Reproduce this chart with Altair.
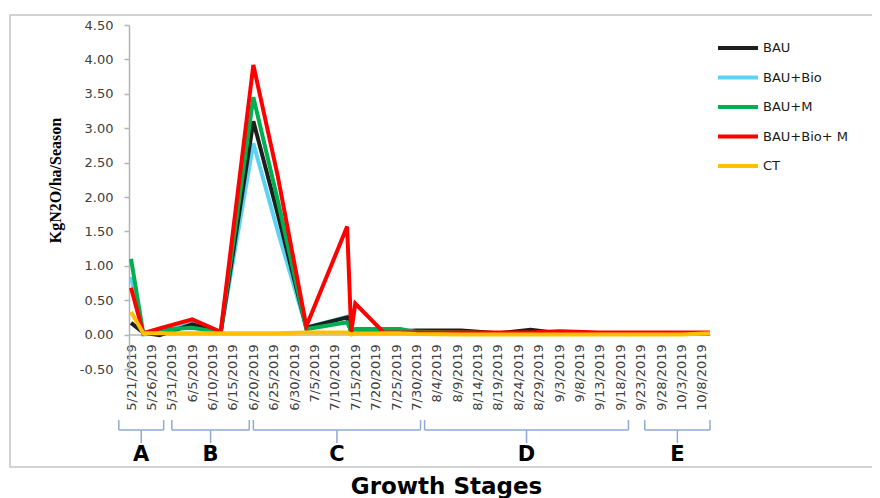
import altair as alt
import pandas as pd

# ---- data ----
dates = ["2019-05-21", "2019-05-24", "2019-05-28", "2019-06-05", "2019-06-12",
         "2019-06-20", "2019-06-26", "2019-07-03", "2019-07-13", "2019-07-14",
         "2019-07-15", "2019-07-21", "2019-07-22", "2019-07-26", "2019-07-30",
         "2019-08-10", "2019-08-19", "2019-08-27", "2019-09-03", "2019-09-13",
         "2019-09-23", "2019-10-03", "2019-10-10"]
bau = [0.17, 0.03, -0.01, 0.15, 0.03, 3.10, 1.75, 0.10, 0.25, 0.03, 0.05, 0.05,
       0.05, 0.05, 0.06, 0.06, 0.02, 0.07, 0.02, 0.02, 0.02, 0.02, 0.02]
bau_bio = [0.84, 0.00, 0.03, 0.16, 0.03, 2.78, 1.50, 0.10, 0.26, 0.03, 0.04, 0.04,
           0.04, 0.04, 0.03, 0.02, 0.02, 0.02, 0.02, 0.02, 0.02, 0.02, 0.02]
bau_m = [1.10, 0.02, 0.07, 0.10, 0.03, 3.45, 1.95, 0.08, 0.18, 0.05, 0.08, 0.08,
         0.08, 0.08, 0.04, 0.03, 0.02, 0.02, 0.02, 0.02, 0.02, 0.02, 0.02]
bau_bio_m = [0.68, 0.02, 0.09, 0.22, 0.04, 3.92, 2.30, 0.12, 1.57, 0.04, 0.45, 0.09,
             0.03, 0.03, 0.03, 0.03, 0.03, 0.03, 0.05, 0.03, 0.03, 0.03, 0.03]
ct = [0.33, 0.02, 0.02, 0.02, 0.02, 0.02, 0.02, 0.03, 0.03, 0.00, 0.02, 0.02,
      0.02, 0.02, 0.01, 0.00, 0.00, 0.00, 0.00, 0.00, 0.00, 0.00, 0.02]

series_names = ["BAU", "BAU+Bio", "BAU+M", "BAU+Bio+ M", "CT"]
series_colors = ["#1E1E1E", "#5CD3F2", "#00B050", "#FF0000", "#FFC000"]
series_values = {"BAU": bau, "BAU+Bio": bau_bio, "BAU+M": bau_m,
                 "BAU+Bio+ M": bau_bio_m, "CT": ct}
draw_order = ["BAU+Bio", "BAU", "BAU+M", "BAU+Bio+ M", "CT"]

tick_dates = ["2019-05-21", "2019-05-26", "2019-05-31", "2019-06-05", "2019-06-10",
              "2019-06-15", "2019-06-20", "2019-06-25", "2019-06-30", "2019-07-05",
              "2019-07-10", "2019-07-15", "2019-07-20", "2019-07-25", "2019-07-30",
              "2019-08-04", "2019-08-09", "2019-08-14", "2019-08-19", "2019-08-24",
              "2019-08-29", "2019-09-03", "2019-09-08", "2019-09-13", "2019-09-18",
              "2019-09-23", "2019-09-28", "2019-10-03", "2019-10-08"]
y_ticks = [-0.5, 0.0, 0.5, 1.0, 1.5, 2.0, 2.5, 3.0, 3.5, 4.0, 4.5]

stage_names = ["A", "B", "C", "D", "E"]
stage_start = ["2019-05-18", "2019-05-31", "2019-06-20", "2019-08-01", "2019-09-24"]
stage_end = ["2019-05-29", "2019-06-19", "2019-07-31", "2019-09-20", "2019-10-10"]

# ---- tables ----
rows = []
for name in draw_order:
    for d, v in zip(dates, series_values[name]):
        rows.append({"date": d + "T00:00:00", "series": name, "value": v})
df = pd.DataFrame(rows)

st = pd.to_datetime(pd.Series(stage_start))
en = pd.to_datetime(pd.Series(stage_end))
mid = st + (en - st) / 2
stages = pd.DataFrame({
    "stage": stage_names,
    "start": st.dt.strftime("%Y-%m-%dT%H:%M:%S"),
    "end": en.dt.strftime("%Y-%m-%dT%H:%M:%S"),
    "mid": mid.dt.strftime("%Y-%m-%dT%H:%M:%S"),
})

def dt(s):
    y, m, d = s.split("-")
    return alt.DateTime(year=int(y), month=int(m), date=int(d))

tick_vals = [dt(s) for s in tick_dates]
x_scale = alt.Scale(domain=[alt.DateTime(year=2019, month=5, date=20, hours=12),
                            alt.DateTime(year=2019, month=10, date=10)], nice=False)

FONT = "DejaVu Sans"
AXIS_GRAY = "#B4B4B4"
BRACKET = "#8FAAD6"

x_axis = alt.Axis(values=tick_vals, format="%-m/%-d/%Y", labelAngle=270,
                  labelAlign="right", labelBaseline="middle", labelPadding=9,
                  ticks=False, domainColor=AXIS_GRAY, domainWidth=1.5,
                  labelFont=FONT, labelFontSize=13, labelColor="#404040",
                  grid=False, offset=-34.4, labelOverlap=False, labelSeparation=0,
                  title="Growth Stages", titleFont=FONT, titleFontSize=23,
                  titleFontWeight="bold", titleColor="#000000",
                  titleX=317, titleY=159, titleAlign="center",
                  titleBaseline="alphabetic")

border = alt.Chart(pd.DataFrame({"k": [0]})).mark_rect(
    fillOpacity=0, stroke="#C4C4C4", strokeWidth=1.5
).encode(x=alt.value(-119), x2=alt.value(746), y=alt.value(-10), y2=alt.value(442))

lines = alt.Chart(df).mark_line(strokeWidth=4).encode(
    x=alt.X("date:T", scale=x_scale, axis=x_axis),
    y=alt.Y("value:Q", scale=alt.Scale(domain=[-0.5, 4.5], nice=False, zero=False),
            axis=alt.Axis(values=y_ticks,
                          labelExpr="replace(format(datum.value, '.2f'), '\u2212', '-')",
                          tickSize=5, tickColor=AXIS_GRAY, tickWidth=1.5,
                          domainColor=AXIS_GRAY, domainWidth=1.5, grid=False,
                          labelFont=FONT, labelFontSize=13, labelColor="#404040",
                          labelPadding=11,
                          title="KgN2O/ha/Season", titleFont="Liberation Serif",
                          titleFontSize=16, titleFontWeight="bold",
                          titleColor="#000000", titleAngle=270,
                          titleX=-74, titleY=155, titleAlign="center",
                          titleBaseline="middle")),
    color=alt.Color("series:N",
                    scale=alt.Scale(domain=series_names, range=series_colors),
                    legend=alt.Legend(title=None, orient="none", legendX=597,
                                      legendY=11, symbolType="M-2,0L2,0",
                                      symbolSize=400, symbolStrokeWidth=4,
                                      labelFont=FONT, labelFontSize=13,
                                      labelColor="#1A1A1A", rowPadding=9.5,
                                      labelOffset=13, padding=0)),
)

rule_kw = dict(color=BRACKET, strokeWidth=1.5)
hbar = alt.Chart(stages).mark_rule(**rule_kw).encode(
    x=alt.X("start:T", scale=x_scale, axis=x_axis), x2="end:T", y=alt.value(405))
ltick = alt.Chart(stages).mark_rule(**rule_kw).encode(
    x=alt.X("start:T", scale=x_scale, axis=x_axis), y=alt.value(395), y2=alt.value(405))
rtick = alt.Chart(stages).mark_rule(**rule_kw).encode(
    x=alt.X("end:T", scale=x_scale, axis=x_axis), y=alt.value(395), y2=alt.value(405))
mtick = alt.Chart(stages).mark_rule(**rule_kw).encode(
    x=alt.X("mid:T", scale=x_scale, axis=x_axis), y=alt.value(405), y2=alt.value(418))
letters = alt.Chart(stages).mark_text(
    font=FONT, fontSize=21, fontWeight="bold", color="#000000", baseline="middle"
).encode(x=alt.X("mid:T", scale=x_scale, axis=x_axis), y=alt.value(430), text="stage:N")

chart = alt.layer(border, lines, hbar, ltick, rtick, mtick, letters).properties(
    width=581, height=344,
    autosize=alt.AutoSizeParams(type="none"),
    padding={"left": 121, "top": 17, "right": 162, "bottom": 129},
).configure_view(stroke=None).configure_axisX(labelOverlap=False)

chart.save("out.html", embed_options={"renderer": "svg", "actions": False})
